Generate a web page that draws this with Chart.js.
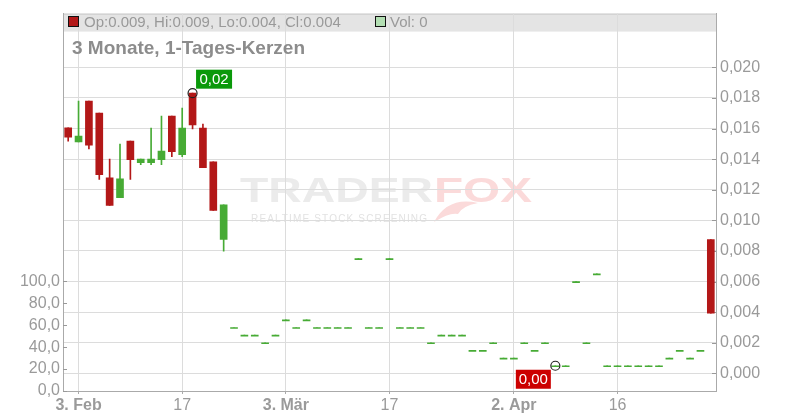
<!DOCTYPE html>
<html>
<head>
<meta charset="utf-8">
<script src="https://cdn.jsdelivr.net/npm/chart.js@4.4.1/dist/chart.umd.min.js"></script>
<style>
  html, body { margin: 0; padding: 0; background: #fff; }
  #grafico { display: block; }
</style>
</head>
<body>
<canvas id="grafico" width="800" height="420"></canvas>
<script>
// dias de pregão (3 meses, velas diárias)
var datas = ['31.01',
  '03.02','04.02','05.02','06.02','07.02','10.02','11.02','12.02','13.02','14.02',
  '17.02','18.02','19.02','20.02','21.02','24.02','25.02','26.02','27.02','28.02',
  '03.03','04.03','05.03','06.03','07.03','10.03','11.03','12.03','13.03','14.03',
  '17.03','18.03','19.03','20.03','21.03','24.03','25.03','26.03','27.03','28.03',
  '31.03','01.04','02.04','03.04','04.04','07.04','08.04','09.04','10.04','11.04',
  '14.04','15.04','16.04','17.04','22.04','23.04','24.04','25.04','28.04','29.04',
  '30.04','02.05'];

var aberturas = [0.01605,0.01512,0.01779,0.01701,0.01278,0.01149,0.01518,0.01377,0.01377,0.01397,
  0.01681,0.01429,0.01831,0.01603,0.01382,0.00876,0.0030,0.0025,0.0025,0.0020,
  0.0025,0.0035,0.0030,0.0035,0.0030,0.0030,0.0030,0.0030,0.0075,0.0030,
  0.0030,0.0075,0.0030,0.0030,0.0030,0.0020,0.0025,0.0025,0.0025,0.0015,
  0.0015,0.0020,0.0010,0.0010,0.0020,0.0015,0.0020,0.0005,0.0005,0.0060,
  0.0020,0.0065,0.0005,0.0005,0.0005,0.0005,0.0005,0.0005,0.0010,0.0015,
  0.0010,0.0015,0.00874];
var maximas = [0.01605,0.01779,0.01779,0.01701,0.01401,0.01499,0.01518,0.01401,0.01603,0.01681,
  0.01681,0.01733,0.01831,0.01629,0.01382,0.01102,0.0030,0.0025,0.0025,0.0020,
  0.0025,0.0035,0.0030,0.0035,0.0030,0.0030,0.0030,0.0030,0.0075,0.0030,
  0.0030,0.0075,0.0030,0.0030,0.0030,0.0020,0.0025,0.0025,0.0025,0.0015,
  0.0015,0.0020,0.0010,0.0010,0.0020,0.0015,0.0020,0.0005,0.0005,0.0060,
  0.0020,0.0065,0.0005,0.0005,0.0005,0.0005,0.0005,0.0005,0.0010,0.0015,
  0.0010,0.0015,0.00874];
var minimas = [0.01518,0.01512,0.01466,0.01267,0.01097,0.01149,0.01267,0.01364,0.01364,0.01364,
  0.01416,0.01416,0.01598,0.01345,0.01065,0.00798,0.0030,0.0025,0.0025,0.0020,
  0.0025,0.0035,0.0030,0.0035,0.0030,0.0030,0.0030,0.0030,0.0075,0.0030,
  0.0030,0.0075,0.0030,0.0030,0.0030,0.0020,0.0025,0.0025,0.0025,0.0015,
  0.0015,0.0020,0.0010,0.0010,0.0020,0.0015,0.0020,0.0005,0.0005,0.0060,
  0.0020,0.0065,0.0005,0.0005,0.0005,0.0005,0.0005,0.0005,0.0010,0.0015,
  0.0010,0.0015,0.00394];
var fechamentos = [0.01544,0.01551,0.01492,0.01299,0.01097,0.01271,0.01397,0.01401,0.01401,0.01453,
  0.01449,0.01603,0.01624,0.01345,0.01065,0.01102,0.0030,0.0025,0.0025,0.0020,
  0.0025,0.0035,0.0030,0.0035,0.0030,0.0030,0.0030,0.0030,0.0075,0.0030,
  0.0030,0.0075,0.0030,0.0030,0.0030,0.0020,0.0025,0.0025,0.0025,0.0015,
  0.0015,0.0020,0.0010,0.0010,0.0020,0.0015,0.0020,0.0005,0.0005,0.0060,
  0.0020,0.0065,0.0005,0.0005,0.0005,0.0005,0.0005,0.0005,0.0010,0.0015,
  0.0010,0.0015,0.00394];
var volumeAtual = 0;

// rótulos dos eixos
var indicesDatas = [1, 11, 21, 31, 43, 53];
var textosDatas = ['3. Feb', '17', '3. Mär', '17', '2. Apr', '16'];
var ticksPreco = [0, 0.002, 0.004, 0.006, 0.008, 0.010, 0.012, 0.014, 0.016, 0.018, 0.020];
var ticksVolume = [0, 20, 40, 60, 80, 100];

var VERMELHO = '#b31818';
var VERDE = '#47ab35';
var FONTE = "'Liberation Sans', Arial, sans-serif";

var corVela = datas.map(function (d, i) {
    return fechamentos[i] >= aberturas[i] ? VERDE : VERMELHO;
});

function virgula(v, casas) {
    return v.toFixed(casas).replace('.', ',');
}

// fundo: marca d'água e barra do cabeçalho (antes da grade)
var fundo = {
    id: 'fundo',
    beforeDraw: function (chart) {
        var ctx = chart.ctx;
        var a = chart.chartArea;
        ctx.save();
        ctx.fillStyle = '#e4e4e4';
        ctx.fillRect(a.left, a.top, a.right - a.left, 18);
        ctx.strokeStyle = '#c8c8c8';
        ctx.lineWidth = 1;
        ctx.beginPath();
        ctx.moveTo(a.left, a.top + 0.5);
        ctx.lineTo(a.right, a.top + 0.5);
        ctx.stroke();

        // TRADERFOX
        ctx.font = 'bold 35px ' + FONTE;
        ctx.textBaseline = 'alphabetic';
        ctx.textAlign = 'left';
        var w1 = ctx.measureText('TRADER').width;
        ctx.save();
        ctx.translate(240, 202);
        ctx.scale(193 / w1, 1);
        ctx.fillStyle = '#ebebeb';
        ctx.fillText('TRADER', 0, 0);
        ctx.restore();
        var w2 = ctx.measureText('FOX').width;
        ctx.save();
        ctx.translate(434, 202);
        ctx.scale(98 / w2, 1);
        ctx.fillStyle = '#fbdada';
        ctx.fillText('FOX', 0, 0);
        ctx.restore();

        // rabo da raposa
        ctx.fillStyle = '#fbdada';
        ctx.beginPath();
        ctx.moveTo(434, 222);
        ctx.quadraticCurveTo(448, 196, 478, 203);
        ctx.quadraticCurveTo(462, 206, 458, 214);
        ctx.quadraticCurveTo(450, 212, 434, 222);
        ctx.fill();

        var sub = 'REALTIME STOCK SCREENING';
        ctx.font = '10px ' + FONTE;
        ctx.fillStyle = '#e2e2e2';
        var larg = 0;
        for (var i = 0; i < sub.length; i++) larg += ctx.measureText(sub[i]).width;
        var esp = (176 - larg) / (sub.length - 1);
        var x = 251;
        for (var j = 0; j < sub.length; j++) {
            ctx.fillText(sub[j], x, 222);
            x += ctx.measureText(sub[j]).width + esp;
        }
        ctx.restore();
    }
};

// textos do cabeçalho, marcas dos eixos e marcadores de máxima/mínima
var textos = {
    id: 'textos',
    beforeDatasetsDraw: function (chart) {
        var ctx = chart.ctx;
        var a = chart.chartArea;
        var n = datas.length - 1;
        ctx.save();
        ctx.lineWidth = 1;
        ctx.fillStyle = VERMELHO;
        ctx.fillRect(68.5, 16.5, 10, 10);
        ctx.strokeStyle = '#111';
        ctx.strokeRect(68.5, 16.5, 10, 10);
        ctx.fillStyle = '#b3dfb3';
        ctx.fillRect(375.5, 16.5, 10, 10);
        ctx.strokeRect(375.5, 16.5, 10, 10);

        ctx.font = '15px ' + FONTE;
        ctx.fillStyle = '#999';
        ctx.textBaseline = 'alphabetic';
        ctx.fillText('Op:' + aberturas[n].toFixed(3) + ', Hi:' + maximas[n].toFixed(3) +
            ', Lo:' + minimas[n].toFixed(3) + ', Cl:' + fechamentos[n].toFixed(3), 84, 27);
        ctx.fillText('Vol: ' + volumeAtual, 390, 27);

        ctx.font = 'bold 19px ' + FONTE;
        ctx.fillStyle = '#8c8c8c';
        ctx.fillText('3 Monate, 1-Tages-Kerzen', 72, 54);

        // marquinhas dos eixos y (para dentro)
        ctx.strokeStyle = '#999';
        var ys = chart.scales.y;
        ys.ticks.forEach(function (t) {
            var py = Math.round(ys.getPixelForValue(t.value)) + 0.5;
            ctx.beginPath();
            ctx.moveTo(a.right - 4, py);
            ctx.lineTo(a.right, py);
            ctx.stroke();
        });
        var yv = chart.scales.yv;
        yv.ticks.forEach(function (t) {
            var py = Math.round(yv.getPixelForValue(t.value)) + 0.5;
            ctx.beginPath();
            ctx.moveTo(a.left, py);
            ctx.lineTo(a.left + 4, py);
            ctx.stroke();
        });
        ctx.restore();
    },
    afterDatasetsDraw: function (chart) {
        var ctx = chart.ctx;
        var xs = chart.scales.x;
        var ys = chart.scales.y;
        var iMax = 0, iMin = 0;
        for (var i = 1; i < datas.length; i++) {
            if (maximas[i] > maximas[iMax]) iMax = i;
            if (minimas[i] < minimas[iMin]) iMin = i;
        }
        ctx.save();
        ctx.lineWidth = 1.2;
        ctx.strokeStyle = '#222';
        ctx.font = '15px ' + FONTE;
        ctx.textAlign = 'center';
        ctx.textBaseline = 'middle';

        var hx = xs.getPixelForValue(iMax);
        var hy = ys.getPixelForValue(maximas[iMax]);
        ctx.beginPath();
        ctx.arc(hx, hy, 4.5, 0, Math.PI * 2);
        ctx.stroke();
        ctx.fillStyle = '#0a990a';
        ctx.fillRect(hx + 3.5, hy - 23.5, 36, 19);
        ctx.fillStyle = '#fff';
        ctx.fillText(virgula(maximas[iMax], 2), hx + 21.5, hy - 13.5);

        var lx = xs.getPixelForValue(iMin);
        var ly = ys.getPixelForValue(minimas[iMin]);
        ctx.beginPath();
        ctx.arc(lx, ly, 4.5, 0, Math.PI * 2);
        ctx.stroke();
        ctx.fillStyle = '#cc0000';
        ctx.fillRect(lx - 39.5, ly + 4, 35, 19);
        ctx.fillStyle = '#fff';
        ctx.fillText(virgula(minimas[iMin], 2), lx - 22, ly + 14);
        ctx.restore();
    }
};

var grafico = document.getElementById('grafico').getContext('2d');
var criarGrafico = new Chart(grafico, {
    type: 'bar',
    data: {
        labels: datas,
        datasets: [{
            label: 'Pavio',
            data: datas.map(function (d, i) { return [minimas[i], maximas[i]]; }),
            backgroundColor: corVela,
            barThickness: 1,
            grouped: false,
            xAxisID: 'x',
            yAxisID: 'y'
        }, {
            label: 'Corpo',
            data: datas.map(function (d, i) { return [aberturas[i], fechamentos[i]]; }),
            backgroundColor: corVela,
            barThickness: 7,
            minBarLength: 1,
            grouped: false,
            xAxisID: 'x',
            yAxisID: 'y'
        }]
    },
    options: {
        responsive: false,
        animation: false,
        layout: { padding: { top: 12, left: 0, right: 0, bottom: 0 } },
        plugins: {
            legend: { display: false },
            tooltip: { enabled: false }
        },
        scales: {
            x: {
                type: 'category',
                offset: true,
                grid: {
                    offset: false,
                    color: '#dcdcdc',
                    tickColor: '#aaa',
                    tickLength: 3
                },
                border: { color: '#aaa' },
                afterBuildTicks: function (scale) {
                    scale.ticks = indicesDatas.map(function (i) { return { value: i }; });
                },
                afterFit: function (scale) { scale.height = 29; },
                ticks: {
                    autoSkip: false,
                    maxRotation: 0,
                    padding: 2,
                    color: '#9a9a9a',
                    font: function (c) {
                        var t = c.tick ? textosDatas[indicesDatas.indexOf(c.tick.value)] : '';
                        return { family: FONTE, size: 16, weight: (t && t.indexOf('.') > 0) ? 'bold' : 'normal' };
                    },
                    callback: function (v) {
                        return textosDatas[indicesDatas.indexOf(v)];
                    }
                }
            },
            y: {
                position: 'right',
                min: -0.00115,
                max: 0.02351,
                grid: { color: '#dcdcdc', drawTicks: false },
                border: { color: '#aaa' },
                afterBuildTicks: function (scale) {
                    scale.ticks = ticksPreco.map(function (v) { return { value: v }; });
                },
                afterFit: function (scale) { scale.width = 84; },
                ticks: {
                    padding: 4,
                    color: '#9a9a9a',
                    font: { family: FONTE, size: 16 },
                    callback: function (v) { return virgula(v, 3); }
                }
            },
            yv: {
                position: 'left',
                display: true,
                min: 0,
                max: 344.5,
                grid: { display: false, drawTicks: false },
                border: { color: '#aaa' },
                afterBuildTicks: function (scale) {
                    scale.ticks = ticksVolume.map(function (v) { return { value: v }; });
                },
                afterFit: function (scale) { scale.width = 63; },
                ticks: {
                    padding: 3,
                    color: '#9a9a9a',
                    font: { family: FONTE, size: 16 },
                    callback: function (v) { return virgula(v, 1); }
                }
            }
        }
    },
    plugins: [fundo, textos]
});
</script>
</body>
</html>
